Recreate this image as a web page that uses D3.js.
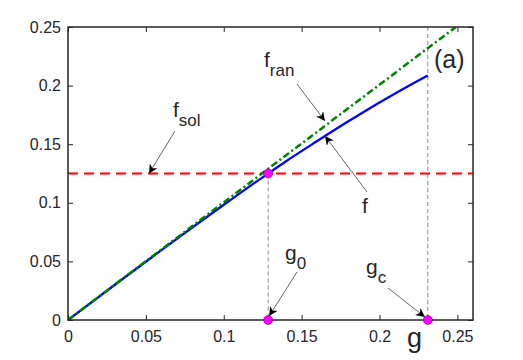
<!DOCTYPE html>
<html>
<head>
<meta charset="utf-8">
<script src="https://cdn.jsdelivr.net/npm/d3@7"></script>
<style>
  body { margin: 0; background: #fff; }
  text { font-family: "Liberation Sans", Arial, sans-serif; fill: #262626; }
</style>
</head>
<body>
<svg id="chart" width="523" height="360"></svg>
<script>
// data
const xTicks = [0, 0.05, 0.1, 0.15, 0.2, 0.25];
const yTicks = [0, 0.05, 0.1, 0.15, 0.2, 0.25];
const fG = [0, 0.02, 0.04, 0.06, 0.08, 0.1, 0.12, 0.1285, 0.14, 0.16, 0.18, 0.2, 0.22, 0.231];
const fVal = [0, 0.02, 0.0399, 0.0596, 0.0791, 0.0983, 0.1172, 0.125, 0.1355, 0.1527, 0.1695, 0.1856, 0.2008, 0.2087];
const franG = [0, 0.249];
const franVal = [0, 0.25];
const fSol = 0.125;
const g0 = 0.1285;
const gc = 0.231;

const margin = { top: 27, right: 50, bottom: 40, left: 68 };
const width = 523, height = 360;
const innerW = width - margin.left - margin.right;
const innerH = height - margin.top - margin.bottom;

const svg = d3.select("#chart");
const g = svg.append("g").attr("transform", `translate(${margin.left},${margin.top})`);

const x = d3.scaleLinear().domain([0, 0.26]).range([0, innerW]);
const y = d3.scaleLinear().domain([0, 0.25]).range([innerH, 0]);

svg.append("defs").append("clipPath").attr("id", "clip")
  .append("rect").attr("width", innerW).attr("height", innerH);

svg.select("defs").append("marker")
  .attr("id", "arrow")
  .attr("viewBox", "0 0 10 10")
  .attr("refX", 10).attr("refY", 5)
  .attr("markerWidth", 9).attr("markerHeight", 9)
  .attr("markerUnits", "userSpaceOnUse")
  .attr("orient", "auto")
  .append("path")
  .attr("d", "M0,0 L10,5 L0,10 L3,5 Z")
  .attr("fill", "#000");

// vertical guides
g.append("line")
  .attr("x1", x(g0)).attr("x2", x(g0))
  .attr("y1", y(fSol)).attr("y2", y(0))
  .attr("stroke", "#555").attr("stroke-width", 0.7).attr("stroke-dasharray", "4,3");
g.append("line")
  .attr("x1", x(gc)).attr("x2", x(gc))
  .attr("y1", y(0.25)).attr("y2", y(0))
  .attr("stroke", "#555").attr("stroke-width", 0.7).attr("stroke-dasharray", "4,3");

const plot = g.append("g").attr("clip-path", "url(#clip)");

// f_sol
plot.append("line")
  .attr("x1", x(0)).attr("x2", x(0.26))
  .attr("y1", y(fSol)).attr("y2", y(fSol))
  .attr("stroke", "#ff0000").attr("stroke-width", 2).attr("stroke-dasharray", "10,6");

const line = d3.line().x(d => x(d[0])).y(d => y(d[1])).curve(d3.curveMonotoneX);

// f
plot.append("path")
  .attr("d", line(fG.map((v, i) => [v, fVal[i]])))
  .attr("fill", "none").attr("stroke", "#0000ff").attr("stroke-width", 2.3);

// f_ran
plot.append("path")
  .attr("d", line(franG.map((v, i) => [v, franVal[i]])))
  .attr("fill", "none").attr("stroke", "#008000").attr("stroke-width", 2.5)
  .attr("stroke-dasharray", "7,3,2,3");

// axes, ticks inward on all four sides
const xAxis = g.append("g").attr("transform", `translate(0,${innerH})`)
  .call(d3.axisBottom(x).tickValues(xTicks).tickSizeInner(-5).tickSizeOuter(0).tickPadding(11).tickFormat(d3.format("")));
const xTop = g.append("g")
  .call(d3.axisTop(x).tickValues(xTicks).tickSizeInner(-5).tickSizeOuter(0).tickFormat(""));
const yAxis = g.append("g")
  .call(d3.axisLeft(y).tickValues(yTicks).tickSizeInner(-5).tickSizeOuter(0).tickPadding(7).tickFormat(d3.format("")));
const yRight = g.append("g").attr("transform", `translate(${innerW},0)`)
  .call(d3.axisRight(y).tickValues(yTicks).tickSizeInner(-5).tickSizeOuter(0).tickFormat(""));

[xAxis, xTop, yAxis, yRight].forEach(a => {
  a.select(".domain").remove();
  a.selectAll(".tick line").attr("stroke", "#262626").attr("stroke-width", 1);
  a.selectAll(".tick text").attr("font-size", 16).attr("fill", "#262626")
    .attr("font-family", "Liberation Sans, Arial, sans-serif");
});

g.append("rect")
  .attr("width", innerW).attr("height", innerH)
  .attr("fill", "none").attr("stroke", "#262626").attr("stroke-width", 1.5);

// markers
g.selectAll(".dot")
  .data([[g0, fSol], [g0, 0], [gc, 0]])
  .join("circle")
  .attr("class", "dot")
  .attr("cx", d => x(d[0])).attr("cy", d => y(d[1]))
  .attr("r", 4.5)
  .attr("fill", "#ff00ff").attr("stroke", "#8a008a").attr("stroke-width", 0.6);

// labels with subscripts
function label(px, py, main, sub) {
  const t = g.append("text").attr("x", px).attr("y", py).attr("font-size", 21);
  t.append("tspan").text(main);
  if (sub) t.append("tspan").attr("dy", 9).attr("font-size", 17).text(sub);
}
function arrow(x1, y1, x2, y2) {
  g.append("line")
    .attr("x1", x1).attr("y1", y1).attr("x2", x2).attr("y2", y2)
    .attr("stroke", "#222").attr("stroke-width", 0.7)
    .attr("marker-end", "url(#arrow)");
}

label(173 - 68, 117 - 27, "f", "sol");
arrow(175 - 68, 131 - 27, x(0.052), y(fSol));

label(264 - 68, 67 - 27, "f", "ran");
arrow(297 - 68, 84 - 27, 325 - 68, 121 - 27);

label(362 - 68, 213 - 27, "f", null);
arrow(367 - 68, 192 - 27, x(0.165), y(0.157));

label(285 - 68, 260 - 27, "g", "0");
arrow(297 - 68, 272 - 27, x(g0) + 1, y(0) - 4);

label(366 - 68, 274 - 27, "g", "c");
arrow(388 - 68, 288 - 27, x(gc) - 3, y(0) - 3);

// axis label and panel tag
g.append("text").attr("x", 407 - 68).attr("y", 347 - 27).attr("font-size", 27).text("g");
g.append("text").attr("x", 434 - 68).attr("y", 68 - 27).attr("font-size", 25).text("(a)");
</script>
</body>
</html>
